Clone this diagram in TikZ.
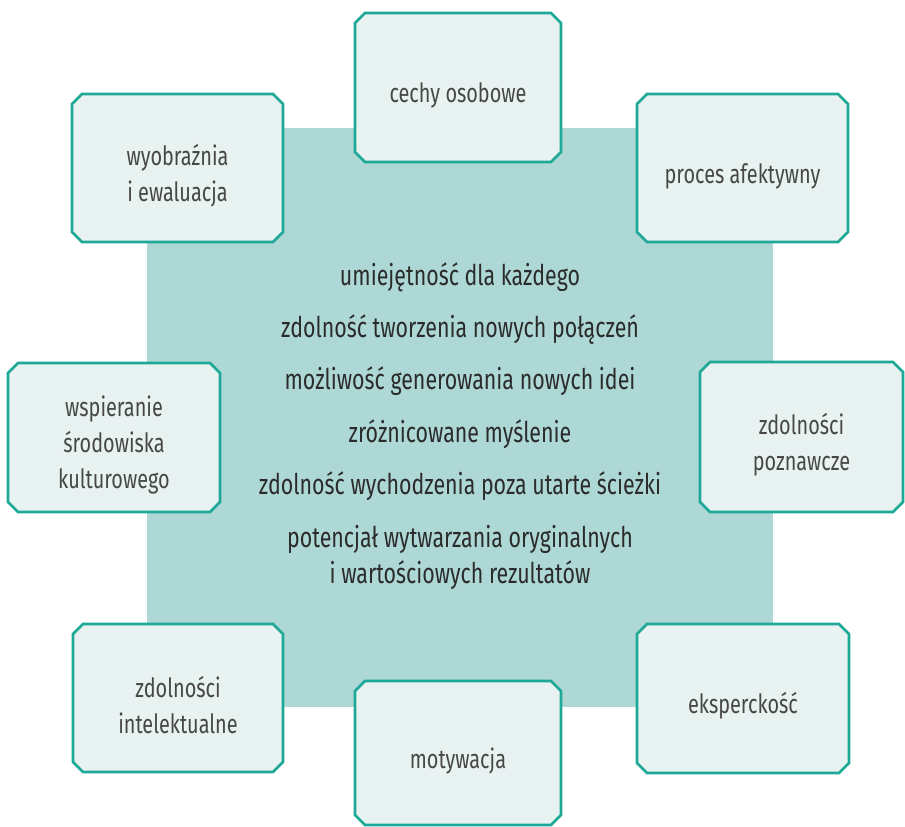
\documentclass[tikz,border=0pt]{standalone}
\usepackage{fontspec}
\setmainfont{Fira Sans}[FakeStretch=0.75]
\usetikzlibrary{shapes.misc}
\definecolor{tealline}{HTML}{1EA897}
\definecolor{boxfill}{HTML}{E8F2F1}
\definecolor{squarefill}{HTML}{AED8D5}
\definecolor{textdark}{HTML}{2B2B2B}
\definecolor{textbox}{HTML}{474747}
% an empty first line pushes each caption a little below the box centre
\newcommand{\lowcap}{\mbox{}\\}
\tikzset{
  idea/.style={chamfered rectangle, chamfered rectangle xsep=5pt,
    chamfered rectangle ysep=5pt, draw=tealline, line width=2.6pt,
    fill=boxfill, inner sep=0pt, text=textbox, align=center,
    font=\fontsize{26.5}{36}\selectfont},
  centre/.style={text=textdark, align=center, inner sep=0pt,
    font=\fontsize{28.5}{36}\selectfont}
}
\begin{document}
\begin{tikzpicture}[x=1pt,y=-1pt]
\useasboundingbox (0,0) rectangle (905,827);
% central square
\fill[squarefill] (147,128) rectangle (773,707);
% statements inside the square
\node[centre, anchor=base] (c1) at (460,285) {umiejętność dla każdego};
\node[centre, anchor=base] (c2) at (460,337) {zdolność tworzenia nowych połączeń};
\node[centre, anchor=base] (c3) at (460,389) {możliwość generowania nowych idei};
\node[centre, anchor=base] (c4) at (460,442) {zróżnicowane myślenie};
\node[centre, anchor=base] (c5) at (460,494) {zdolność wychodzenia poza utarte ścieżki};
\node[centre, anchor=base] (c6) at (460,583) {potencjał wytwarzania oryginalnych\\i wartościowych rezultatów};
% surrounding boxes
\node[idea, minimum width=206pt, minimum height=149pt] (b1) at (458,87.5) {\lowcap cechy osobowe};
\node[idea, minimum width=211pt, minimum height=148pt] (b2) at (177.5,168) {\lowcap wyobraźnia\\i ewaluacja};
\node[idea, minimum width=211pt, minimum height=148pt] (b3) at (742.5,168) {\lowcap proces afektywny};
\node[idea, minimum width=212pt, minimum height=149pt] (b4) at (114,437.5) {\lowcap wspieranie\\środowiska\\kulturowego};
\node[idea, minimum width=203pt, minimum height=150pt] (b5) at (801.5,437) {\lowcap zdolności\\poznawcze};
\node[idea, minimum width=210pt, minimum height=148pt] (b6) at (178,698) {\lowcap zdolności\\intelektualne};
\node[idea, minimum width=212pt, minimum height=149pt] (b7) at (743,698.5) {\lowcap eksperckość};
\node[idea, minimum width=206pt, minimum height=144pt] (b8) at (458,753) {\lowcap motywacja};
\end{tikzpicture}
\end{document}
